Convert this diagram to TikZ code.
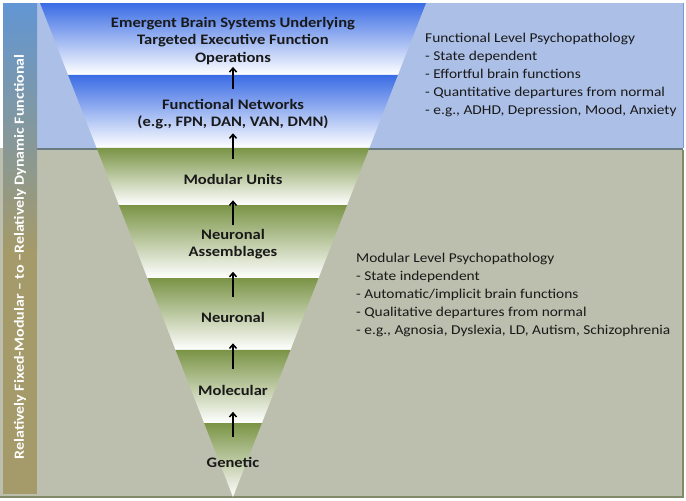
\documentclass[tikz,border=0pt]{standalone}
\usepackage{fontspec}
\setmainfont{Carlito}[FakeStretch=1.14]
\usetikzlibrary{calc,arrows.meta}
\definecolor{upperbg}{RGB}{172,191,231}
\definecolor{lowerbg}{RGB}{188,191,173}
\definecolor{seprule}{RGB}{105,122,128}
\definecolor{edgeolive}{RGB}{128,138,104}
\definecolor{edgeblue}{RGB}{125,150,215}
\definecolor{bandblue}{RGB}{58,108,228}
\definecolor{bandgreen}{RGB}{122,148,70}
\definecolor{barblue}{RGB}{98,150,212}
\definecolor{barolive}{RGB}{164,154,106}
\begin{document}
\begin{tikzpicture}[x=1pt, y=-1pt,
  level/.style = {font=\bfseries\fontsize{14.5}{17.5}\selectfont,
    align=center, inner sep=0pt, text=black!90},
  note/.style = {font=\fontsize{13.5}{18}\selectfont, align=left,
    anchor=north west, inner sep=0pt, text=black!90},
  uparrow/.style = {-{Straight Barb[length=4pt,width=7pt]}, line width=1.5pt}]
  \useasboundingbox (0,0) rectangle (686,501);
  % backgrounds
  \fill[white] (0,0) rectangle (686,501);
  \fill[lowerbg] (0,148) rectangle (683,497);
  \fill[upperbg] (37,3) rectangle (683,148);
  \draw[seprule, line width=2pt] (37,149) -- (683,149);
  \draw[edgeblue, line width=1pt] (683,3) -- (683,148);
  \draw[edgeolive, line width=1.5pt] (683,150) -- (683,497) -- (0,497);
  % side bar
  \shade[top color=barblue, bottom color=barolive] (3,3) rectangle (37,250);
  \fill[barolive] (3,250) rectangle (37,494);
  \node[rotate=90, text=white, font=\bfseries\fontsize{14}{16}\selectfont] (axis) at (20,257)
    {Relatively Fixed-Modular -- to --Relatively Dynamic Functional};
  % inverted triangle
  \coordinate (tl) at (40,3);
  \coordinate (tr) at (426,3);
  \coordinate (apex) at (233,497);
  \foreach \ta/\tb/\col in {0/0.1457/bandblue, 0.1457/0.2935/bandblue,
      0.2935/0.4089/bandgreen, 0.4089/0.5567/bandgreen, 0.5567/0.7024/bandgreen,
      0.7024/0.8502/bandgreen, 0.8502/1/bandgreen}
    \shade[top color=\col, bottom color=white]
      ($(tl)!\ta!(apex)$) -- ($(tr)!\ta!(apex)$) -- ($(tr)!\tb!(apex)$) -- ($(tl)!\tb!(apex)$) -- cycle;
  % levels
  \node[level] (em) at (233,41) {Emergent Brain Systems Underlying\\Targeted Executive Function\\Operations};
  \node[level] (fn) at (233,114) {Functional Networks\\(e.g., FPN, DAN, VAN, DMN)};
  \node[level] (mu) at (233,179) {Modular Units};
  \node[level] (na) at (233,244) {Neuronal\\Assemblages};
  \node[level] (ne) at (233,317) {Neuronal};
  \node[level] (mo) at (233,390) {Molecular};
  \node[level] (ge) at (233,462) {Genetic};
  \foreach \lo/\up/\sa/\sb in {fn/em/9.5/2, mu/fn/15/4, na/mu/3.5/16,
      ne/na/15/12.5, mo/ne/15.5/21, ge/mo/20/16.5}
    \draw[uparrow, shorten <=\sa pt, shorten >=\sb pt] (\lo.north) -- (\up.south);
  % psychopathology notes
  \node[note] (funcnote) at (425,33) {Functional Level Psychopathology\\- State dependent\\- Effortful brain functions\\- Quantitative departures from normal\\- e.g., ADHD, Depression, Mood, Anxiety};
  \node[note] (modnote) at (356,253) {Modular Level Psychopathology\\- State independent\\- Automatic/implicit brain functions\\- Qualitative departures from normal\\- e.g., Agnosia, Dyslexia, LD, Autism, Schizophrenia};
\end{tikzpicture}
\end{document}
